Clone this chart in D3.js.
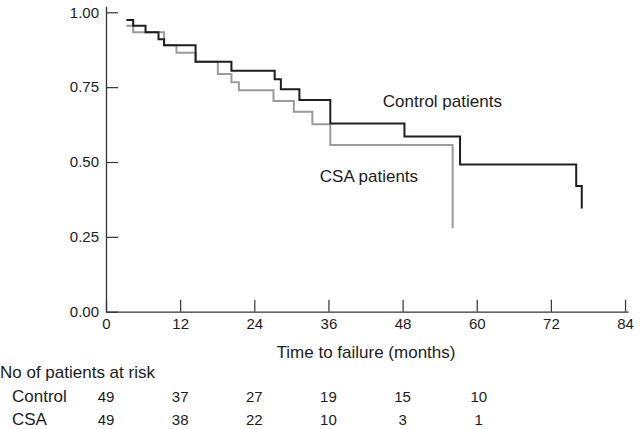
<!DOCTYPE html>
<html>
<head>
<meta charset="utf-8">
<script src="https://cdn.jsdelivr.net/npm/d3@7"></script>
<style>
  html, body { margin: 0; padding: 0; background: #fff; }
  svg { display: block; font-family: "Liberation Sans", Arial, Helvetica, sans-serif; }
</style>
</head>
<body>
<svg id="chart" width="640" height="429"></svg>
<script>
// ---- data ----
const controlTimes = [3.3, 4.4, 6.4, 8.5, 9.4, 14.5, 20.3, 27.3, 28.3, 31.3, 36.3, 48.3, 57.3, 76.1, 77.0];
const controlSurv  = [0.974, 0.955, 0.933, 0.91, 0.89, 0.835, 0.805, 0.776, 0.743, 0.707, 0.629, 0.585, 0.492, 0.42, 0.345];
const csaTimes = [3.3, 4.4, 9.4, 11.4, 14.5, 18.1, 20.3, 21.5, 27.1, 30.4, 33.4, 36.3, 56.1];
const csaSurv  = [0.955, 0.933, 0.89, 0.865, 0.835, 0.794, 0.766, 0.74, 0.704, 0.668, 0.626, 0.557, 0.279];
const xTicks = [0, 12, 24, 36, 48, 60, 72, 84];
const yTicks = [0, 0.25, 0.5, 0.75, 1.0];
const riskTimes = [0, 12, 24, 36, 48, 60];
const controlRisk = [49, 37, 27, 19, 15, 10];
const csaRisk = [49, 38, 22, 10, 3, 1];
const seriesLabels = ["Control patients", "CSA patients"];
const riskRowLabels = ["Control", "CSA"];

// ---- scales ----
const svg = d3.select("#chart");
const x = d3.scaleLinear().domain([0, 84.5]).range([106, 106 + 84.5 * 6.179]);
const y = d3.scaleLinear().domain([0, 1.02]).range([311.7, 311.7 - 1.02 * 299.4]);
const textColor = "#1c1c1c";
const axisColor = "#333";

// ---- axes ----
const xAxis = d3.axisBottom(x).tickValues(xTicks).tickFormat(d3.format("d"))
  .tickSizeInner(-12).tickSizeOuter(0).tickPadding(7);
const gx = svg.append("g").attr("transform", `translate(0,${y(0)})`).call(xAxis);
const yAxis = d3.axisLeft(y).tickValues(yTicks).tickFormat(d3.format(".2f"))
  .tickSizeInner(-12).tickSizeOuter(0).tickPadding(7);
const gy = svg.append("g").attr("transform", `translate(${x(0)},0)`).call(yAxis);
[gx, gy].forEach(g => {
  g.selectAll("path.domain").attr("stroke", axisColor).attr("stroke-width", 1.3);
  g.selectAll(".tick line").attr("stroke", axisColor).attr("stroke-width", 1.2);
  g.selectAll(".tick text").attr("fill", textColor).style("font-size", "15px")
    .style("font-family", '"Liberation Sans", Arial, Helvetica, sans-serif');
});

// ---- curves ----
const line = d3.line().x(d => x(d[0])).y(d => y(d[1])).curve(d3.curveStepAfter);
const csaPts = csaTimes.map((t, i) => [t, csaSurv[i]]);
const ctlPts = controlTimes.map((t, i) => [t, controlSurv[i]]);
svg.append("path").attr("d", line(csaPts)).attr("fill", "none")
  .attr("stroke", "#9b9b9b").attr("stroke-width", 2);
svg.append("path").attr("d", line(ctlPts)).attr("fill", "none")
  .attr("stroke", "#1e1e1e").attr("stroke-width", 2);

// ---- series labels ----
svg.append("text").attr("x", x(44.8)).attr("y", 107).text(seriesLabels[0])
  .attr("fill", textColor).style("font-size", "17px");
svg.append("text").attr("x", x(34.6)).attr("y", 182).text(seriesLabels[1])
  .attr("fill", textColor).style("font-size", "17px");

// ---- x axis title ----
svg.append("text").attr("x", 366).attr("y", 358).attr("text-anchor", "middle")
  .text("Time to failure (months)").attr("fill", textColor).style("font-size", "17px");

// ---- risk table ----
svg.append("text").attr("x", 0).attr("y", 378).text("No of patients at risk")
  .attr("fill", textColor).style("font-size", "17px");
const rows = [[riskRowLabels[0], controlRisk, 402], [riskRowLabels[1], csaRisk, 425]];
rows.forEach(([lab, vals, by]) => {
  svg.append("text").attr("x", 12).attr("y", by).text(lab)
    .attr("fill", textColor).style("font-size", "17px");
  svg.selectAll(null).data(vals).enter().append("text")
    .attr("x", (d, i) => x(riskTimes[i]) + (i === 5 ? 2 : 0))
    .attr("y", by).attr("text-anchor", "middle")
    .text(d => d).attr("fill", textColor).style("font-size", "15px");
});
</script>
</body>
</html>
